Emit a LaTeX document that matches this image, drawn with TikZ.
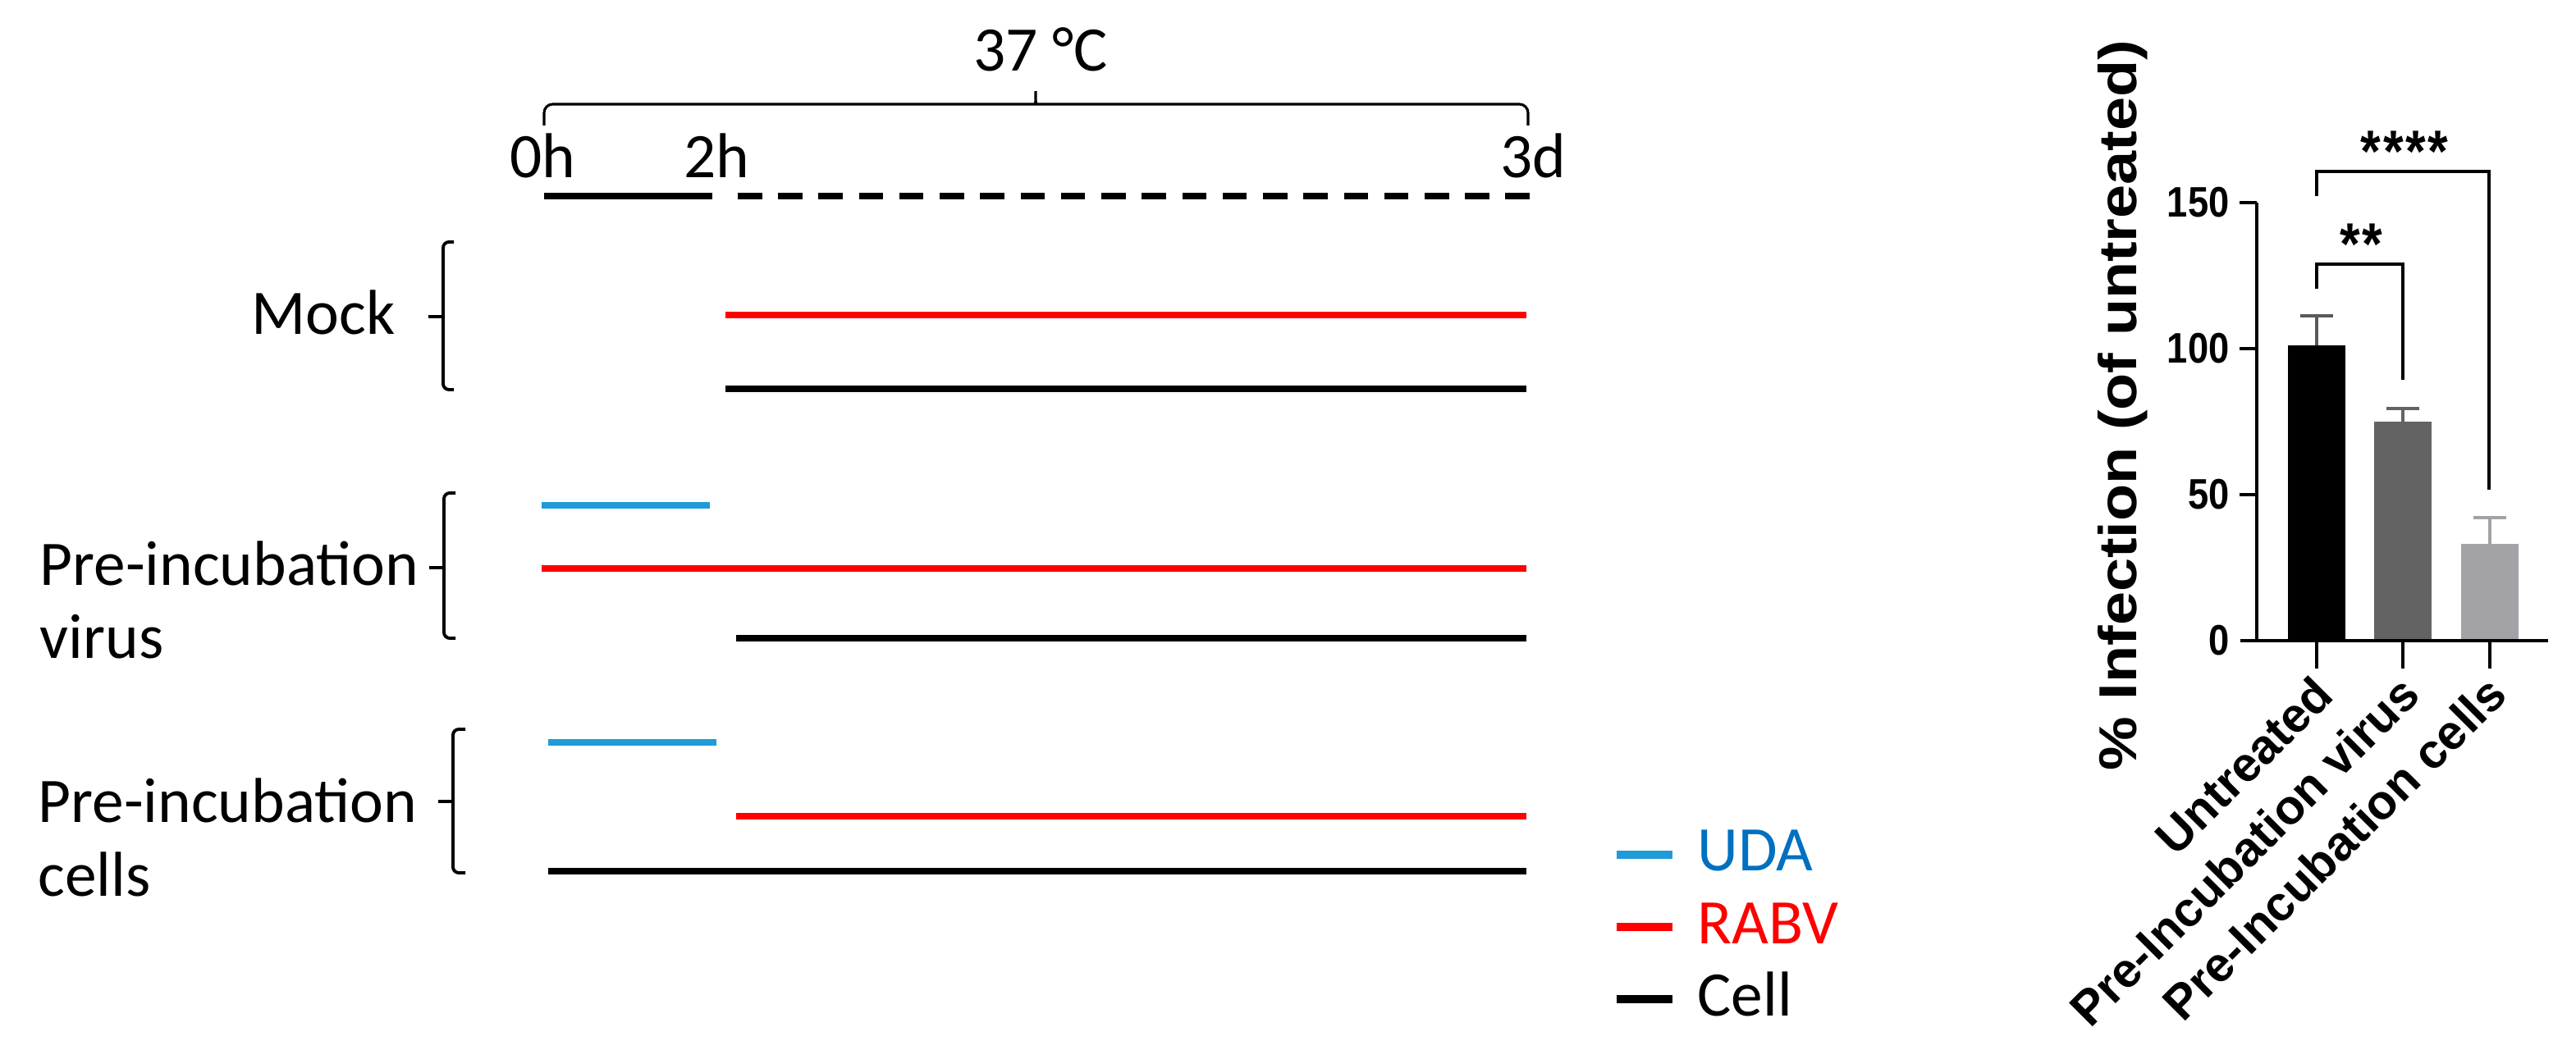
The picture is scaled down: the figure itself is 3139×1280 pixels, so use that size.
\documentclass[tikz,border=0pt]{standalone}
\usepackage{fontspec}
\setmainfont{Carlito}
\newfontfamily\prismfont{Liberation Sans}
\usetikzlibrary{positioning}

\definecolor{udaline}{RGB}{31,155,215}
\definecolor{udatext}{RGB}{0,112,192}
\definecolor{rabv}{RGB}{255,0,0}
\definecolor{bardark}{RGB}{99,99,99}
\definecolor{barlight}{RGB}{163,162,167}
\definecolor{errgrey}{RGB}{90,90,90}

\begin{document}
\begin{tikzpicture}[x=0.01cm,y=-0.01cm,
	every node/.style={inner sep=0pt},
	lbl/.style={font=\fontsize{22pt}{24pt}\selectfont},
	run/.style={line width=2pt},
	keyline/.style={line width=2.6pt},
	brk/.style={line width=1.1pt,rounded corners=2pt},
	brace/.style={line width=0.9pt,rounded corners=3pt},
	ax/.style={line width=1.25pt},
	err/.style={line width=0.9pt},
	ticklbl/.style={font=\prismfont\bfseries\fontsize{14.8pt}{16pt}\selectfont,xscale=.87,anchor=east},
	catlbl/.style={font=\prismfont\bfseries\fontsize{16.8pt}{18pt}\selectfont,rotate=45,anchor=base east},
	ylbl/.style={font=\prismfont\bfseries\fontsize{21pt}{22pt}\selectfont,rotate=90,yscale=.88,anchor=base},
	sig/.style={font=\prismfont\bfseries\fontsize{20.5pt}{22pt}\selectfont,xscale=.88,anchor=base}]
	\useasboundingbox (0,0) rectangle (3139,1280);

	% time line
	\node[lbl,anchor=base] (temp) at (1268,87) {37 °C};
	\draw[brace] (663,153) -- (663,127) -- (1254,127) .. controls (1262,127) .. (1262,105)
		.. controls (1262,127) .. (1270,127) -- (1862,127) -- (1862,153);
	\node[lbl,anchor=base] (t0) at (661,217) {0h};
	\node[lbl,anchor=base] (t2) at (873,217) {2h};
	\node[lbl,anchor=base] (t3) at (1868,217) {3d};
	\draw[run] (663,239) -- (868,239);
	\draw[run,dash pattern=on 8.4pt off 5.6pt] (899,239) -- (1879,239);

	% mock
	\node[lbl,anchor=base east] (mock) at (482,408) {Mock};
	\draw[brk] (553,295) -- (540,295) -- (540,475) -- (553,475);
	\draw[brk] (522,386) -- (540,386);
	\draw[run,rabv] (884,384) -- (1860,384);
	\draw[run] (884,474) -- (1860,474);

	% pre-incubation virus
	\node[lbl,anchor=base west] (virA) at (48,714) {Pre-incubation};
	\node[lbl,anchor=base west] (virB) at (48,803) {virus};
	\draw[brk] (555,601) -- (541,601) -- (541,778) -- (555,778);
	\draw[brk] (523,692) -- (541,692);
	\draw[run,udaline] (660,616) -- (865,616);
	\draw[run,rabv] (660,693) -- (1860,693);
	\draw[run] (897,778) -- (1860,778);

	% pre-incubation cells
	\node[lbl,anchor=base west] (celA) at (46,1003) {Pre-incubation};
	\node[lbl,anchor=base west] (celB) at (46,1093) {cells};
	\draw[brk] (567,889) -- (552,889) -- (552,1064) -- (567,1064);
	\draw[brk] (534,977) -- (552,977);
	\draw[run,udaline] (668,905) -- (873,905);
	\draw[run,rabv] (897,995) -- (1860,995);
	\draw[run] (668,1062) -- (1860,1062);

	% legend
	\draw[keyline,udaline] (1970,1042) -- (2038,1042);
	\node[lbl,anchor=base west,text=udatext] (kuda) at (2068,1062) {UDA};
	\draw[keyline,rabv] (1970,1130) -- (2038,1130);
	\node[lbl,anchor=base west,text=rabv] (krabv) at (2068,1151) {RABV};
	\draw[keyline] (1970,1218) -- (2038,1218);
	\node[lbl,anchor=base west] (kcell) at (2068,1239) {Cell};

	% bar chart
	\fill[black] (2788,781) rectangle (2858,421);
	\fill[bardark] (2893,781) rectangle (2963,514);
	\fill[barlight] (2999,781) rectangle (3069,663);
	\draw[err,errgrey] (2823,421) -- (2823,385) (2803,385) -- (2843,385);
	\draw[err,bardark] (2928,514) -- (2928,498) (2908,498) -- (2948,498);
	\draw[err,barlight] (3034,663) -- (3034,631) (3014,631) -- (3054,631);

	\draw[ax] (2750,247) -- (2750,781);
	\draw[ax] (2730,781) -- (3105,781);
	\draw[ax] (2729,247) -- (2750,247);
	\draw[ax] (2729,425) -- (2750,425);
	\draw[ax] (2729,603) -- (2750,603);
	\draw[ax] (2823,781) -- (2823,815);
	\draw[ax] (2928,781) -- (2928,815);
	\draw[ax] (3034,781) -- (3034,815);
	\node[ticklbl] (y150) at (2717,247) {150};
	\node[ticklbl] (y100) at (2717,425) {100};
	\node[ticklbl] (y50) at (2717,603) {50};
	\node[ticklbl] (y0) at (2717,781) {0};
	\node[ylbl] (ylab) at (2603,494) {\% Infection (of untreated)};

	\node[catlbl] (cun) at (2847,850) {Untreated};
	\node[catlbl] (cvir) at (2952,850) {Pre-Incubation virus};
	\node[catlbl] (ccel) at (3058,850) {Pre-Incubation cells};

	% significance
	\draw[ax] (2823,352) -- (2823,322) -- (2928,322) -- (2928,463);
	\draw[ax] (2823,239) -- (2823,209) -- (3033,209) -- (3033,597);
	\node[sig] (s2) at (2877,323) {*\kern0.8pt*};
	\node[sig] (s4) at (2930,210) {*\kern0.8pt*\kern0.8pt*\kern0.8pt*};
\end{tikzpicture}
\end{document}
